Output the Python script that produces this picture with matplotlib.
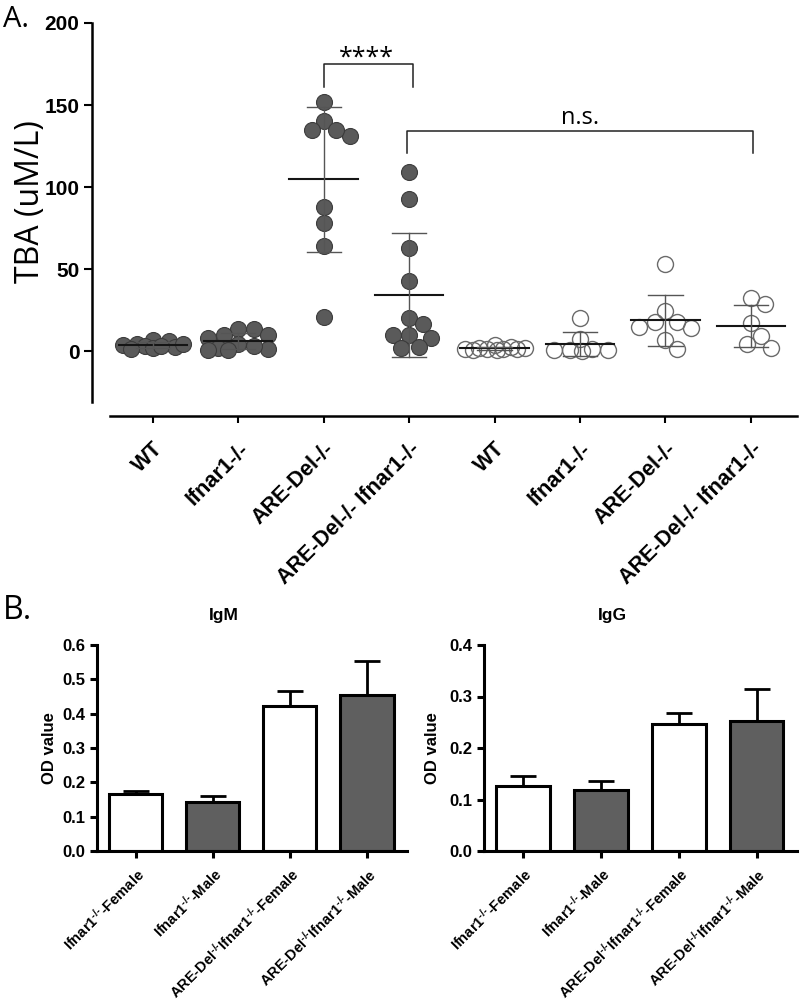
import numpy as np
import matplotlib
matplotlib.use("Agg")
import matplotlib.pyplot as plt

plt.rcParams["font.family"] = ["Liberation Sans", "DejaVu Sans"]
plt.rcParams["mathtext.fontset"] = "custom"
plt.rcParams["mathtext.rm"] = "Liberation Sans:bold"
plt.rcParams["mathtext.bf"] = "Liberation Sans:bold"
plt.rcParams["mathtext.it"] = "Liberation Sans:bold:italic"
plt.rcParams["mathtext.default"] = "rm"

# -------------------------
# Panel A data (TBA, uM/L)
# -------------------------
groups_a = ["WT", "Ifnar1-/-", "ARE-Del-/-", "ARE-Del-/- Ifnar1-/-",
            "WT", "Ifnar1-/-", "ARE-Del-/-", "ARE-Del-/- Ifnar1-/-"]

wt_filled = [6.5, 6.0, 4.5, 3.5, 3.0, 2.5, 2.0, 1.0, 3.0, 4.0]
ifnar_filled = [13.4, 13.4, 9.8, 9.8, 8.0, 4.0, 2.0, 0.6, 0.6, 1.5, 3.0]
are_filled = [151.8, 140.2, 134.6, 130.9, 134.6, 87.8, 78.3, 63.8, 20.7]
dko_filled = [109.0, 92.7, 62.8, 42.7, 20.0, 16.4, 9.8, 8.2, 9.8, 2.0, 2.6]
wt_open = [3.5, 2.5, 2.0, 1.5, 1.0, 0.5, 1.0, 2.0, 1.5, 0.5]
ifnar_open = [20.0, 7.5, 1.0, 0.5, 0.5, 0.5, 0.0]
are_open = [52.8, 24.4, 17.5, 14.2, 14.8, 17.9, 6.7, 1.2]
dko_open = [32.5, 28.7, 16.9, 9.3, 4.1, 1.6]

series_a = [wt_filled, ifnar_filled, are_filled, dko_filled,
            wt_open, ifnar_open, are_open, dko_open]
filled_a = [True, True, True, True, False, False, False, False]

# -------------------------
# Panel B data (OD value, mean + SEM)
# -------------------------
sup = r"$^{\text{-/-}}$"
groups_b = ["Ifnar1" + sup + "-Female", "Ifnar1" + sup + "-Male",
            "ARE-Del" + sup + "Ifnar1" + sup + "-Female",
            "ARE-Del" + sup + "Ifnar1" + sup + "-Male"]
igm_mean = [0.165, 0.142, 0.422, 0.455]
igm_sem = [0.010, 0.018, 0.045, 0.099]
igg_mean = [0.127, 0.118, 0.246, 0.252]
igg_sem = [0.018, 0.017, 0.022, 0.062]
bar_fill = ["white", "#5f5f5f", "white", "#5f5f5f"]

W, H = 800, 1007
fig = plt.figure(figsize=(W / 100, H / 100), dpi=100)


def box(l, t, r, b):
    return [l / W, 1 - b / H, (r - l) / W, (b - t) / H]


# -------------------------
# Panel A
# -------------------------
ax = fig.add_axes(box(110, 23, 797, 416))
ax.set_xlim(-0.5, 7.54)
ax.set_ylim(-39.6, 200)

px_x = 687 / 8.04
px_y = 393 / 239.6


def swarm(vals, dmin=15.0, maxpx=30.0, step=2.0):
    order = np.argsort(vals)[::-1]
    placed = []
    offs = np.zeros(len(vals))
    cands = [0.0]
    k = 1
    while k * step <= maxpx:
        cands += [k * step, -k * step]
        k += 1
    for i in order:
        vy = vals[i] * px_y
        best, best_d = 0.0, -1
        for c in cands:
            d = min([np.hypot(c - p[0], vy - p[1]) for p in placed] or [1e9])
            if d >= dmin:
                best = c
                break
            if d > best_d:
                best, best_d = c, d
        placed.append((best, vy))
        offs[i] = best / px_x
    return offs


for i, (vals, filled) in enumerate(zip(series_a, filled_a)):
    vals = np.array(vals)
    xs = i + swarm(vals)
    if filled:
        ax.plot(xs, vals, "o", ms=11.5, mfc="#5a5a5a", mec="#3c3c3c",
                mew=0.8, ls="none", zorder=2)
    else:
        ax.plot(xs, vals, "o", ms=11.5, mfc="none", mec="#6a6a6a",
                mew=1.0, ls="none", zorder=2)
    m = vals.mean()
    sd = vals.std(ddof=1)
    ax.plot([i - 0.4, i + 0.4], [m, m], color="#151515", lw=1.5, zorder=3)
    ax.plot([i, i], [m - sd, m + sd], color="#555555", lw=1.0, zorder=3)
    for yy in (m - sd, m + sd):
        ax.plot([i - 0.2, i + 0.2], [yy, yy], color="#555555", lw=1.0, zorder=3)

# significance brackets
ax.plot([2, 2, 3.05, 3.05], [161, 175, 175, 161], color="#222222", lw=1.1)
ax.text(2.5, 171, "****", ha="center", va="bottom", fontsize=18,
        family="Open Sans")
ax.plot([2.98, 2.98, 7.03, 7.03], [121, 134, 134, 121], color="#222222", lw=1.1)
ax.text(5.0, 135, "n.s.", ha="center", va="bottom", fontsize=17,
        family="Open Sans")

ax.spines["top"].set_visible(False)
ax.spines["right"].set_visible(False)
ax.spines["left"].set_position(("outward", 13))
ax.spines["left"].set_bounds(-31, 200)
ax.spines["left"].set_linewidth(1.8)
ax.spines["bottom"].set_linewidth(1.8)
ax.set_yticks([0, 50, 100, 150, 200])
ax.set_xticks(range(8))
ax.set_xticklabels(groups_a, rotation=45, ha="right", rotation_mode="anchor",
                   fontsize=15.5, fontweight="bold")
ax.tick_params(axis="y", labelsize=15, width=1.5, length=6, pad=3)
ax.tick_params(axis="x", width=1.5, length=5, pad=11)
for t in ax.get_yticklabels():
    t.set_fontweight("bold")
ax.set_ylabel("TBA (uM/L)", fontsize=23, family="Open Sans")
ax.yaxis.set_label_coords(-0.092, 0.545)

fig.text(3 / W, 1 - 5 / H, "A.", fontsize=21, family="Open Sans",
         ha="left", va="top")
fig.text(3 / W, 1 - 594 / H, "B.", fontsize=23, family="Open Sans",
         ha="left", va="top")


# -------------------------
# Panel B
# -------------------------
def bar_panel(rect, means, sems, ymax, title, lab_x):
    bx = fig.add_axes(rect)
    x = np.arange(len(means))
    bx.bar(x, means, width=0.69, color=bar_fill, edgecolor="black",
           linewidth=2.2, zorder=2)
    bx.errorbar(x, means, yerr=[np.zeros(len(sems)), sems], fmt="none",
                ecolor="black", elinewidth=2.0, capsize=9.7, capthick=2.0,
                zorder=1)
    bx.set_xlim(-0.5, 3.52)
    bx.set_ylim(0, ymax)
    ticks = np.arange(0, ymax + 0.001, 0.1)
    bx.set_yticks(ticks)
    bx.set_yticklabels([f"{v:.1f}" for v in ticks], fontsize=12,
                       fontweight="bold")
    bx.set_xticks(x)
    bx.set_xticklabels(groups_b, rotation=45, ha="right",
                       rotation_mode="anchor", fontsize=10.5,
                       fontweight="bold")
    bx.spines["top"].set_visible(False)
    bx.spines["right"].set_visible(False)
    bx.spines["left"].set_linewidth(2.2)
    bx.spines["bottom"].set_linewidth(2.2)
    bx.tick_params(width=2.2, length=5)
    bx.tick_params(axis="x", pad=5)
    bx.set_ylabel("OD value", fontsize=12, fontweight="bold")
    bx.yaxis.set_label_coords(lab_x, 0.5)
    bx.set_title(title, x=0.41, y=1.0, pad=18, fontsize=12.5,
                 fontweight="bold")
    return bx


bar_panel(box(97, 645, 407, 851), igm_mean, igm_sem, 0.6, "IgM", -0.13)
bar_panel(box(484, 645, 797, 851), igg_mean, igg_sem, 0.4, "IgG", -0.14)

fig.savefig("out.png", dpi=100)
